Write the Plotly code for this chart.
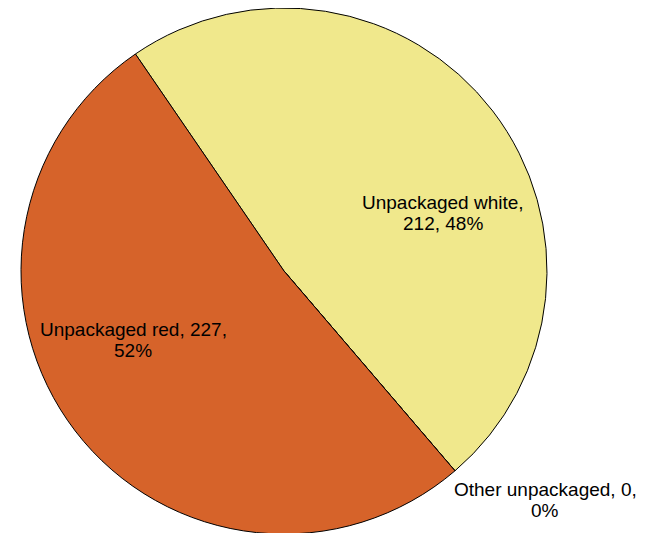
import plotly.graph_objects as go

labels = ["Unpackaged white", "Other unpackaged", "Unpackaged red"]
values = [212, 0, 227]
colors = ["#F0E88C", "#D0D0D0", "#D6632A"]

total = sum(values)
pcts = [round(100 * v / total) for v in values]

# label text, two lines each
texts = [
    [f"{labels[0]},", f"{values[0]}, {pcts[0]}%"],
    [f"{labels[1]}, {values[1]},", f"{pcts[1]}%"],
    [f"{labels[2]}, {values[2]},", f"{pcts[2]}%"],
]

W, H = 647, 533
OFF = 8  # page body margin
LINE = 21
label_pos = [(443 - OFF, 213 - OFF), (545 - OFF, 500 - OFF), (133 - OFF, 340 - OFF)]
cx, cy, r = 284 - OFF, 263, 263

fig = go.Figure(go.Pie(
    labels=labels,
    values=values,
    sort=False,
    direction="clockwise",
    rotation=-34.4,
    marker=dict(colors=colors, line=dict(color="black", width=1)),
    textinfo="none",
    showlegend=False,
    domain=dict(x=[(cx - r) / W, (cx + r) / W],
                y=[max(0, (H - cy - r) / H), min(1, (H - cy + r) / H)]),
))

for lines, (px, py) in zip(texts, label_pos):
    for i, t in enumerate(lines):
        ly = py + (i - (len(lines) - 1) / 2) * LINE
        fig.add_annotation(
            x=px / W, y=1 - ly / H, xref="paper", yref="paper",
            text=t, showarrow=False, xanchor="center", yanchor="middle",
            font=dict(family="Liberation Sans, Arial, sans-serif", size=19, color="black"),
        )

fig.update_layout(
    width=W, height=H,
    margin=dict(l=0, r=0, t=0, b=0),
    paper_bgcolor="white",
    plot_bgcolor="white",
)

fig.write_html("out.html")
